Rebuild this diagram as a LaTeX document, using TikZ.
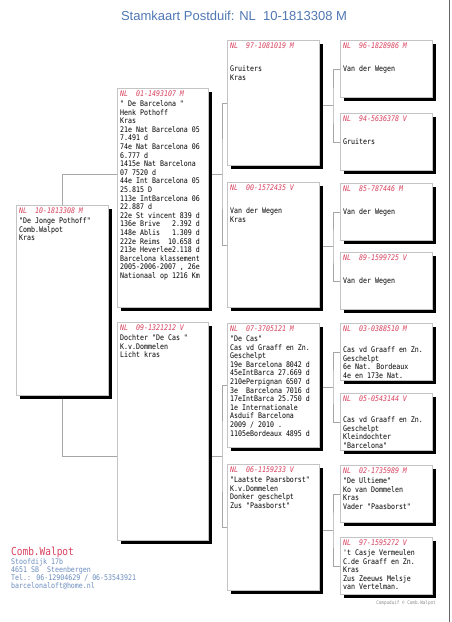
\documentclass[tikz,border=0pt]{standalone}
\usepackage{fontspec}
\setmainfont{Liberation Sans}
\newfontfamily\pedfont[FakeStretch=0.86]{DejaVu Sans Mono}
\usetikzlibrary{calc,positioning,shadows}
\definecolor{PedRed}{HTML}{D8405C}
\definecolor{PedBlue}{HTML}{4F77B3}
\definecolor{PedGrey}{HTML}{C4C4C4}
\newcommand{\ringnr}[1]{{\color{PedRed}\itshape NL~~#1}}
\pgfdeclarelayer{bg}
\pgfsetlayers{bg,main}

\begin{document}
\begin{tikzpicture}[x=1pt,y=-1pt,
 every node/.style={inner sep=0pt},
 card/.style={draw=PedGrey,line width=.5pt,fill=white,anchor=north west,
  minimum width=92pt,
  drop shadow={shadow xshift=4pt,shadow yshift=-4pt,fill=black,opacity=1}},
 gen4/.style={card,minimum height=57pt},
 info/.style={anchor=north west,align=left,
  font=\pedfont\fontsize{7.7}{8.6}\selectfont},
 link/.style={draw=black!35,line width=.5pt}]
 \useasboundingbox (0,0) rectangle (452,622);

 % title
 \node[font=\fontsize{13}{15}\selectfont,text=PedBlue] (title) at (234,16)
  {Stamkaart Postduif: NL~~10-1813308 M};

 % subject
 \node[card,minimum height=190pt] (s) at (16,205) {};
 \node[info] (s-t) at ($(s.north west)+(3,3)$)
  {\ringnr{10-1813308 M}\\[1pt]"De Jonge Pothoff"\\Comb.Walpot\\Kras};

 % parents
 \node[card,minimum width=91pt,minimum height=219pt] (f) at (117,88) {};
 \node[info] (f-t) at ($(f.north west)+(3,3)$)
  {\ringnr{01-1493107 M}\\[1pt]" De Barcelona "\\Henk Pothoff\\Kras\\
   21e Nat Barcelona 05\\7.491 d\\74e Nat Barcelona 06\\6.777 d\\
   1415e Nat Barcelona\\07 7520 d\\44e Int Barcelona 05\\25.815 D\\
   113e IntBarcelona 06\\22.887 d\\22e St vincent 839 d\\
   136e Brive~~~2.392 d\\148e Ablis~~~1.309 d\\222e Reims~~10.658 d\\
   213e Heverlee2.118 d\\Barcelona klassement\\2005-2006-2007 , 26e\\
   Nationaal op 1216 Km};
 \node[card,minimum width=91pt,minimum height=218pt] (m) at (117,322) {};
 \node[info] (m-t) at ($(m.north west)+(3,3)$)
  {\ringnr{09-1321212 V}\\[1pt]Dochter "De Cas "\\K.v.Dommelen\\Licht kras};

 % grandparents
 \node[card,minimum height=125pt] (ff) at (227,40) {};
 \node[info] (ff-t) at ($(ff.north west)+(3,3)$)
  {\ringnr{97-1081019 M}\\[14pt]Gruiters\\Kras};
 \node[card,minimum height=125pt] (fm) at (227,182) {};
 \node[info] (fm-t) at ($(fm.north west)+(3,3)$)
  {\ringnr{00-1572435 V}\\[14pt]Van der Wegen\\Kras};
 \node[card,minimum height=124pt] (mf) at (227,323) {};
 \node[info] (mf-t) at ($(mf.north west)+(3,3)$)
  {\ringnr{07-3705121 M}\\[1pt]"De Cas"\\Cas vd Graaff en Zn.\\Geschelpt\\
   19e Barcelona 8042 d\\45eIntBarca 27.669 d\\210ePerpignan 6507 d\\
   3e~~Barcelona 7016 d\\17eIntBarca 25.750 d\\1e Internationale\\
   Asduif Barcelona\\2009 / 2010 .\\1105eBordeaux 4895 d};
 \node[card,minimum height=126pt] (mm) at (227,464) {};
 \node[info] (mm-t) at ($(mm.north west)+(3,3)$)
  {\ringnr{06-1159233 V}\\[1pt]"Laatste Paarsborst"\\K.v.Dommelen\\
   Donker geschelpt\\Zus "Paasborst"};

 % great-grandparents
 \node[gen4] (fff) at (340,40) {};
 \node[info] (fff-t) at ($(fff.north west)+(3,3)$)
  {\ringnr{96-1828986 M}\\[14pt]Van der Wegen};
 \node[gen4] (ffm) at (340,113) {};
 \node[info] (ffm-t) at ($(ffm.north west)+(3,3)$)
  {\ringnr{94-5636378 V}\\[14pt]Gruiters};
 \node[gen4] (fmf) at (340,183) {};
 \node[info] (fmf-t) at ($(fmf.north west)+(3,3)$)
  {\ringnr{85-787446 M}\\[14pt]Van der Wegen};
 \node[gen4] (fmm) at (340,252) {};
 \node[info] (fmm-t) at ($(fmm.north west)+(3,3)$)
  {\ringnr{89-1599725 V}\\[14pt]Van der Wegen};
 \node[gen4] (mff) at (340,323) {};
 \node[info] (mff-t) at ($(mff.north west)+(3,3)$)
  {\ringnr{03-0388510 M}\\[12pt]Cas vd Graaff en Zn.\\Geschelpt\\
   6e Nat. Bordeaux\\4e en 173e Nat.};
 \node[gen4] (mfm) at (340,393) {};
 \node[info] (mfm-t) at ($(mfm.north west)+(3,3)$)
  {\ringnr{05-0543144 V}\\[12pt]Cas vd Graaff en Zn.\\Geschelpt\\
   Kleindochter\\"Barcelona"};
 \node[gen4] (mmf) at (340,465) {};
 \node[info] (mmf-t) at ($(mmf.north west)+(3,3)$)
  {\ringnr{02-1735989 M}\\[1pt]"De Ultieme"\\Ko van Dommelen\\Kras\\
   Vader "Paasborst"};
 \node[gen4] (mmm) at (340,537) {};
 \node[info] (mmm-t) at ($(mmm.north west)+(3,3)$)
  {\ringnr{97-1595272 V}\\[1pt]'t Casje Vermeulen\\C.de Graaff en Zn.\\
   Kras\\Zus Zeeuws Melsje\\van Vertelman.};

 % owner
 \node[anchor=base west,font=\pedfont\fontsize{11}{12}\selectfont,
  text=PedRed] (owner) at (11,555) {Comb.Walpot};
 \node[info,text=PedBlue!85,font=\pedfont\fontsize{7.7}{8.3}\selectfont]
  (addr) at (11,558)
  {Stoofdijk 17b\\4651 SB~~Steenbergen\\Tel.: 06-12904629 / 06-53543921\\
   barcelonaloft@home.nl};
 \node[anchor=base east,font=\pedfont\fontsize{5}{6}\selectfont,
  text=black!45] (copy) at (436,604) {Compuduif © Comb.Walpot};

 \draw[black!60,line width=.8pt] (449.5,0) -- (449.5,622);

 % links
 \begin{pgfonlayer}{bg}
 \coordinate (jff) at ($(fff.west)!.5!(ffm.west)+(-7,0)$);
 \coordinate (jfm) at ($(fmf.west)!.5!(fmm.west)+(-7,0)$);
 \coordinate (jmf) at ($(mff.west)!.5!(mfm.west)+(-7,0)$);
 \coordinate (jmm) at ($(mmf.west)!.5!(mmm.west)+(-7,0)$);
 \coordinate (jf) at ($(ff.west)!.5!(fm.west)+(-5,0)$);
 \coordinate (jm) at ($(mf.west)!.5!(mm.west)+(-5,0)$);
 \draw[link] (fff.west) -| (jff) |- (ffm.west);
 \draw[link] (jff) -- (ff.east |- jff);
 \draw[link] (fmf.west) -| (jfm) |- (fmm.west);
 \draw[link] (jfm) -- (fm.east |- jfm);
 \draw[link] (mff.west) -| (jmf) |- (mfm.west);
 \draw[link] (jmf) -- (mf.east |- jmf);
 \draw[link] (mmf.west) -| (jmm) |- (mmm.west);
 \draw[link] (jmm) -- (mm.east |- jmm);
 \draw[link] (ff.west) -| (jf) |- (fm.west);
 \draw[link] (jf) -- (f.east |- jf);
 \draw[link] (mf.west) -| (jm) |- (mm.west);
 \draw[link] (jm) -- (m.east |- jm);
 \draw[link] (f.west |- jf) -| (s.north);
 \draw[link] (m.west |- jm) -| (s.south);
 \end{pgfonlayer}
\end{tikzpicture}
\end{document}
